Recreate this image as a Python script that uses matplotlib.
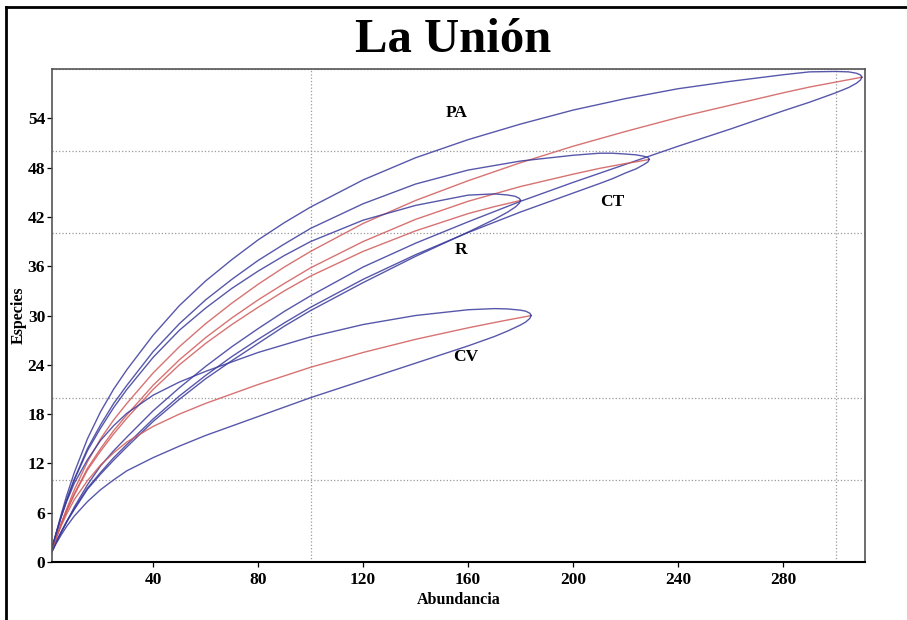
import matplotlib
matplotlib.use("Agg")
import numpy as np
import matplotlib.pyplot as plt
from matplotlib.lines import Line2D
from matplotlib.ticker import MultipleLocator

# rarefaction curves: sample size, mean species, half width of the 95% band
pa_n = [1, 2, 3, 5, 7, 10, 15, 20, 25, 30, 40, 50, 60, 70, 80, 90, 100, 120, 140, 160, 180, 200, 220, 240, 260, 280, 290, 300, 305, 308, 309.5, 310]
pa_s = [1, 1.97, 2.9, 4.7, 6.4, 8.8, 12.2, 15.0, 17.3, 19.3, 23.0, 26.2, 29.0, 31.5, 33.8, 35.9, 37.8, 41.2, 44.0, 46.4, 48.6, 50.6, 52.4, 54.1, 55.6, 57.1, 57.8, 58.4, 58.7, 58.88, 58.97, 59.0]
pa_ci = [0, 0.3, 0.55, 1.1, 1.6, 2.1, 2.8, 3.3, 3.75, 4.1, 4.6, 5.0, 5.2, 5.3, 5.4, 5.4, 5.4, 5.3, 5.2, 5.0, 4.7, 4.4, 4.0, 3.5, 2.9, 2.2, 1.85, 1.3, 0.95, 0.6, 0.3, 0]

ct_n = [1, 2, 3, 5, 7, 10, 15, 20, 25, 30, 40, 50, 60, 70, 80, 90, 100, 120, 140, 160, 180, 200, 210, 215, 220, 224, 227, 228.5, 229]
ct_s = [1, 1.96, 2.88, 4.6, 6.2, 8.3, 11.4, 13.8, 16.0, 17.9, 21.5, 24.6, 27.3, 29.7, 31.9, 33.9, 35.8, 39.0, 41.7, 43.9, 45.7, 47.2, 47.9, 48.2, 48.5, 48.7, 48.88, 48.96, 49.0]
ct_ci = [0, 0.3, 0.5, 0.95, 1.3, 1.8, 2.4, 2.9, 3.3, 3.6, 4.1, 4.4, 4.6, 4.7, 4.8, 4.8, 4.8, 4.6, 4.3, 3.8, 3.1, 2.3, 1.85, 1.55, 1.15, 0.85, 0.5, 0.27, 0]

r_n = [1, 2, 3, 5, 7, 10, 15, 20, 25, 30, 40, 50, 60, 70, 80, 90, 100, 120, 140, 160, 170, 175, 178, 179.5, 180]
r_s = [1, 1.96, 2.88, 4.6, 6.15, 8.2, 11.2, 13.5, 15.6, 17.5, 21.0, 24.0, 26.6, 28.9, 31.0, 33.0, 34.8, 37.8, 40.3, 42.4, 43.25, 43.62, 43.85, 43.96, 44.0]
r_ci = [0, 0.3, 0.5, 0.95, 1.3, 1.8, 2.35, 2.8, 3.2, 3.5, 3.9, 4.2, 4.3, 4.4, 4.4, 4.3, 4.2, 3.8, 3.1, 2.25, 1.55, 1.05, 0.65, 0.3, 0]

cv_n = [1, 2, 3, 5, 7, 10, 15, 20, 25, 30, 40, 50, 60, 80, 100, 120, 140, 160, 170, 175, 180, 182, 183.5, 184]
cv_s = [1, 1.93, 2.8, 4.4, 5.8, 7.6, 9.9, 11.8, 13.3, 14.6, 16.5, 18.0, 19.3, 21.6, 23.7, 25.5, 27.1, 28.5, 29.14, 29.45, 29.75, 29.87, 29.96, 30.0]
cv_ci = [0, 0.35, 0.6, 1.1, 1.5, 2.0, 2.55, 3.0, 3.3, 3.5, 3.8, 3.9, 3.9, 3.9, 3.7, 3.4, 2.9, 2.2, 1.7, 1.35, 0.9, 0.65, 0.32, 0]

sites = ["PA", "CT", "R", "CV"]
label_pos = [(155.8, 54.6), (214.9, 43.8), (157.3, 38.0), (158.9, 24.9)]

plt.rcParams["font.family"] = ["Liberation Serif", "DejaVu Serif"]
plt.rcParams["font.weight"] = "bold"

fig = plt.figure(figsize=(9.07, 6.2), dpi=100)
ax = fig.add_axes([51.5 / 907, 1 - 562 / 620, 813.5 / 907, 493 / 620])

blue = "#3a3a9c"
red = "#d05a5a"
curves = [(pa_n, pa_s, pa_ci), (ct_n, ct_s, ct_ci), (r_n, r_s, r_ci), (cv_n, cv_s, cv_ci)]
for n, s, ci in curves:
    n, s, ci = np.array(n), np.array(s), np.array(ci)
    ax.plot(n, s, color=red, lw=1.0, alpha=0.85)
    ax.plot(n, s + ci, color=blue, lw=1.0, alpha=0.85)
    ax.plot(n, s - ci, color=blue, lw=1.0, alpha=0.85)

for name, (x, y) in zip(sites, label_pos):
    ax.text(x, y, name, ha="center", va="center", fontsize=12.5, fontweight="bold")

ax.set_xlim(1.3, 311.2)
ax.set_ylim(0, 60)
ax.set_xticks([40, 80, 120, 160, 200, 240, 280])
ax.set_yticks([0, 6, 12, 18, 24, 30, 36, 42, 48, 54])
ax.xaxis.set_minor_locator(MultipleLocator(100))
ax.yaxis.set_minor_locator(MultipleLocator(10))
ax.grid(True, which="minor", linestyle=":", color="#9a9a9a", linewidth=0.9)
ax.tick_params(which="minor", length=0)
ax.tick_params(axis="x", which="major", length=3.5, width=0.9, pad=4, labelsize=12.5)
ax.tick_params(axis="y", which="major", length=3.5, width=0.9, pad=1, labelsize=12.5)

for side in ["left", "top", "right"]:
    ax.spines[side].set_color("#555555")
    ax.spines[side].set_linewidth(1.2)
ax.spines["bottom"].set_color("black")
ax.spines["bottom"].set_linewidth(1.5)

ax.set_xlabel("Abundancia", fontsize=11.5, fontweight="bold")
ax.set_ylabel("Especies", fontsize=11.5, fontweight="bold")
ax.xaxis.set_label_coords(0.5, -0.06)
ax.yaxis.set_label_coords(-0.03, 0.5)

fig.text(0.5, 1 - 40 / 620, "La Unión", ha="center", va="center", fontsize=35, fontweight="bold")

# outer frame (left and top edges)
fig.add_artist(Line2D([6 / 907, 6 / 907], [0, 1 - 7 / 620], color="black", lw=2))
fig.add_artist(Line2D([6 / 907, 1], [1 - 7 / 620, 1 - 7 / 620], color="black", lw=2))

fig.savefig("out.png", dpi=100)
